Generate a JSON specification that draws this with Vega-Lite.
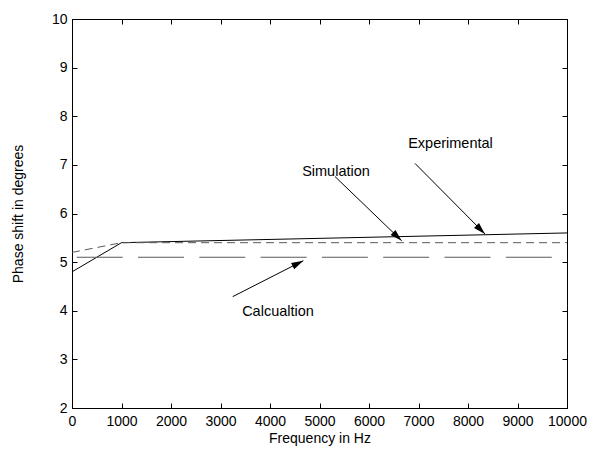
{
  "$schema": "https://vega.github.io/schema/vega-lite/v6.json",
  "autosize": "none",
  "width": 495,
  "height": 389,
  "padding": {"left": 72, "top": 19, "right": 23, "bottom": 42},
  "background": "white",
  "config": {
    "view": {"stroke": "black", "strokeWidth": 1},
    "font": "Liberation Sans",
    "axis": {
      "grid": false,
      "domainColor": "black",
      "tickColor": "black",
      "labelColor": "black",
      "titleColor": "black",
      "labelFont": "Liberation Sans",
      "titleFont": "Liberation Sans",
      "labelFontSize": 14,
      "titleFontSize": 14,
      "titleFontWeight": "normal",
      "tickSize": -5
    }
  },
  "datasets": {
    "lines": [
      {"series": "Experimental", "freq": 0, "phase": 4.8},
      {"series": "Experimental", "freq": 1000, "phase": 5.4},
      {"series": "Experimental", "freq": 10000, "phase": 5.6},
      {"series": "Simulation", "freq": 0, "phase": 5.2},
      {"series": "Simulation", "freq": 1000, "phase": 5.4},
      {"series": "Simulation", "freq": 10000, "phase": 5.4},
      {"series": "Calculation", "freq": 0, "phase": 5.1},
      {"series": "Calculation", "freq": 10000, "phase": 5.1}
    ],
    "notes": [
      {"label": "Experimental", "tx": 7646, "ty": 7.43, "x": 6929, "y": 7.03, "x2": 8343, "y2": 5.58, "angle": 135},
      {"label": "Simulation", "tx": 5333, "ty": 6.85, "x": 5313, "y": 6.76, "x2": 6660, "y2": 5.44, "angle": 134},
      {"label": "Calcualtion", "tx": 4162, "ty": 3.97, "x": 3246, "y": 4.29, "x2": 4673, "y2": 5.03, "angle": 63}
    ]
  },
  "layer": [
    {
      "data": {"name": "lines"},
      "transform": [{"filter": "datum.series === 'Experimental'"}],
      "mark": {"type": "line", "strokeWidth": 1, "color": "black", "clip": true},
      "encoding": {
        "x": {
          "field": "freq", "type": "quantitative",
          "scale": {"domain": [0, 10000], "nice": false},
          "axis": {"title": "Frequency in Hz", "values": [0,1000,2000,3000,4000,5000,6000,7000,8000,9000,10000], "format": "d", "labelPadding": 11, "titlePadding": 3, "labelFlush": false, "labelOverlap": false}
        },
        "y": {
          "field": "phase", "type": "quantitative",
          "scale": {"domain": [2, 10], "nice": false, "zero": false},
          "axis": {"title": "Phase shift in degrees", "values": [2,3,4,5,6,7,8,9,10], "labelPadding": 10, "titlePadding": 26, "labelFlush": false, "labelOverlap": false}
        }
      }
    },
    {
      "data": {"name": "lines"},
      "transform": [{"filter": "datum.series === 'Simulation'"}],
      "mark": {"type": "line", "strokeWidth": 1, "color": "#5a5a5a", "strokeDash": [8, 5], "clip": true},
      "encoding": {
        "x": {"field": "freq", "type": "quantitative", "axis": null},
        "y": {"field": "phase", "type": "quantitative", "axis": null}
      }
    },
    {
      "data": {"name": "lines"},
      "transform": [{"filter": "datum.series === 'Calculation'"}],
      "mark": {"type": "line", "strokeWidth": 1, "color": "#5a5a5a", "strokeDash": [46, 15.3], "strokeDashOffset": 56.6, "clip": true},
      "encoding": {
        "x": {"field": "freq", "type": "quantitative", "axis": null},
        "y": {"field": "phase", "type": "quantitative", "axis": null}
      }
    },
    {
      "data": {"name": "notes"},
      "mark": {"type": "rule", "color": "black", "strokeWidth": 1},
      "encoding": {
        "x": {"field": "x", "type": "quantitative", "axis": null},
        "y": {"field": "y", "type": "quantitative", "axis": null},
        "x2": {"field": "x2"},
        "y2": {"field": "y2"}
      }
    },
    {
      "data": {"name": "notes"},
      "mark": {"type": "point", "shape": "M0,0L-0.29,1L0.29,1Z", "filled": true, "color": "black", "opacity": 1, "size": 576, "strokeWidth": 0},
      "encoding": {
        "x": {"field": "x2", "type": "quantitative", "axis": null},
        "y": {"field": "y2", "type": "quantitative", "axis": null},
        "angle": {"field": "angle", "type": "quantitative", "scale": null}
      }
    },
    {
      "data": {"name": "notes"},
      "mark": {"type": "text", "fontSize": 14.5, "font": "Liberation Sans", "color": "black", "baseline": "middle", "align": "center"},
      "encoding": {
        "x": {"field": "tx", "type": "quantitative", "axis": null},
        "y": {"field": "ty", "type": "quantitative", "axis": null},
        "text": {"field": "label"}
      }
    },
    {
      "data": {"values": [{"freq": 0, "phase": 2}]},
      "mark": {"type": "point", "opacity": 0},
      "encoding": {
        "x": {"field": "freq", "type": "quantitative", "axis": {"orient": "top", "labels": false, "title": null, "domain": false, "values": [0,1000,2000,3000,4000,5000,6000,7000,8000,9000,10000]}},
        "y": {"field": "phase", "type": "quantitative", "axis": {"orient": "right", "labels": false, "title": null, "domain": false, "values": [2,3,4,5,6,7,8,9,10]}}
      }
    }
  ],
  "resolve": {"axis": {"x": "independent", "y": "independent"}}
}
